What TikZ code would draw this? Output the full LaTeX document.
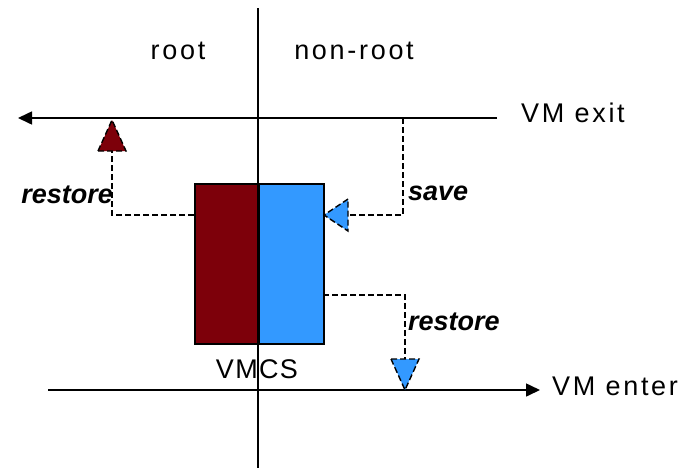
\documentclass[tikz,border=0pt]{standalone}
\usepackage{fontspec}
\setmainfont{Liberation Sans}
\newfontfamily\spacedfont[LetterSpace=10]{Liberation Sans}
\newfontfamily\tightfont[LetterSpace=5]{Liberation Sans}
\usetikzlibrary{arrows.meta}
\definecolor{vmred}{RGB}{125,0,10}
\definecolor{vmblue}{RGB}{51,153,255}
\begin{document}
\begin{tikzpicture}[x=1pt,y=-1pt,
  axis/.style={line width=1.6pt},
  conn/.style={line width=1.4pt, dash pattern=on 6pt off 3pt},
  tri/.style={draw=black, line width=1.4pt, dash pattern=on 6pt off 3pt, line join=miter},
  lbl/.style={font=\spacedfont\fontsize{27}{32}\selectfont, inner sep=0pt},
  vmcs/.style={font=\tightfont\fontsize{27}{32}\selectfont, inner sep=0pt},
  op/.style={font=\bfseries\itshape\fontsize{27}{32}\selectfont, inner sep=0pt},
  half/.style={draw=black, line width=1.6pt, minimum height=160pt, inner sep=0pt, anchor=north west}
]
\useasboundingbox (0,0) rectangle (687,469);
% VMCS boxes
\node[half, fill=vmred, minimum width=64pt] (rootbox) at (194,183) {};
\node[half, fill=vmblue, minimum width=65pt] (guestbox) at (258,183) {};
\node[vmcs, anchor=base] (vmcslabel) at (257,378) {VMCS};
% axes
\coordinate (vtop) at (258,8);
\coordinate (vbot) at (258,468);
\draw[axis] (vtop) -- (vbot);
\coordinate (exitR) at (497,118);
\coordinate (exitL) at (18,118);
\draw[axis, -{Triangle[length=14pt,width=13pt]}] (exitR) -- (exitL);
\coordinate (enterL) at (48,390);
\coordinate (enterR) at (540,390);
\draw[axis, -{Triangle[length=14pt,width=13pt]}] (enterL) -- (enterR);
% labels
\node[lbl, anchor=base] (rootlabel) at (178,59) {root};
\node[lbl, anchor=base] (nonrootlabel) at (354,59) {non-root};
\node[lbl, anchor=base west] (exitlabel) at (521,122) {VM exit};
\node[lbl, anchor=base west] (enterlabel) at (552,395) {VM enter};
% restore (root side)
\coordinate (rA) at (194,215);
\coordinate (rB) at (112,215);
\coordinate (rC) at (112,151);
\draw[conn] (rA) -- (rB) -- (rC);
\filldraw[tri, fill=vmred] (98,151) -- (112,120) -- (126,151) -- cycle;
\node[op, anchor=base east] (restoreL) at (113,203) {restore};
% save
\coordinate (sA) at (403,118);
\coordinate (sB) at (403,215);
\coordinate (sC) at (348,215);
\draw[conn] (sA) -- (sB) -- (sC);
\filldraw[tri, fill=vmblue] (348,199) -- (324,215) -- (348,231) -- cycle;
\node[op, anchor=base west] (savelabel) at (408,200) {save};
% restore (non-root side)
\coordinate (gA) at (323,295);
\coordinate (gB) at (405,295);
\coordinate (gC) at (405,359);
\draw[conn] (gA) -- (gB) -- (gC);
\filldraw[tri, fill=vmblue] (391,359) -- (405,390) -- (419,359) -- cycle;
\node[op, anchor=base west] (restoreR) at (408,330) {restore};
\end{tikzpicture}
\end{document}
